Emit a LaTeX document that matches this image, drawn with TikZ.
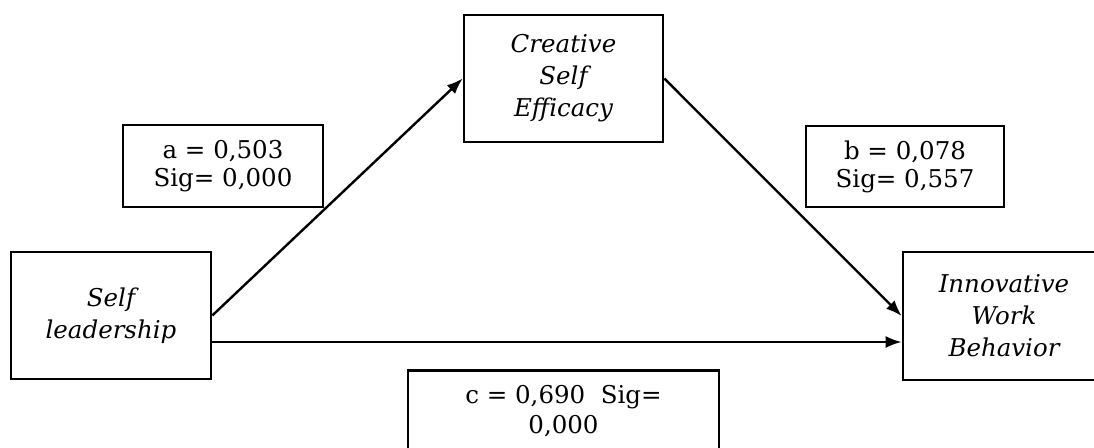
\documentclass[tikz,border=0pt]{standalone}
\usepackage{fontspec}
\setmainfont{DejaVu Serif}
\usetikzlibrary{arrows.meta}
\tikzset{
  varbox/.style={draw, line width=2.6pt, minimum width=200pt, minimum height=127pt, align=center, inner sep=0pt,
    font=\fontsize{24.5}{32}\selectfont\itshape},
  valbox/.style={draw, line width=2.6pt, minimum width=200pt, minimum height=82pt, align=center, inner sep=0pt,
    font=\fontsize{24.5}{28}\selectfont},
  conn/.style={line width=2.4pt, -{Latex[length=16pt,width=12pt]}}
}
\begin{document}
\begin{tikzpicture}[x=1pt,y=-1pt]
\useasboundingbox (0,0) rectangle (1094,447);
\clip (0,0) rectangle (1094,447);
\fill[white] (0,0) rectangle (1094,447);
\node[varbox] (SL) at (111,315.5) {Self\\leadership};
\node[varbox, minimum width=199pt] (CSE) at (563.5,78.5) {Creative\\Self\\Efficacy};
\node[varbox, minimum width=202pt, minimum height=128pt] (IWB) at (1004,316) {Innovative\\Work\\Behavior};
\node[valbox] (A) at (223,166) {a = 0,503\\Sig= 0,000};
\node[valbox, minimum width=198pt, minimum height=81pt] (B) at (905,166.5) {b = 0,078\\Sig= 0,557};
\node[draw, line width=2.6pt, minimum width=311pt, minimum height=120pt, inner sep=0pt, anchor=north] (C) at (563.5,369) {};
\node[align=center, font=\fontsize{24.5}{30}\selectfont, anchor=north] (CT) at (563.5,382) {c = 0,690~~Sig=\\0,000};
\draw[conn] (SL.east) -- (CSE.west);
\draw[conn] (CSE.east) -- (IWB.west);
\draw[conn] ([yshift=-26.5pt]SL.east) -- ([yshift=-26pt]IWB.west);
\end{tikzpicture}
\end{document}
